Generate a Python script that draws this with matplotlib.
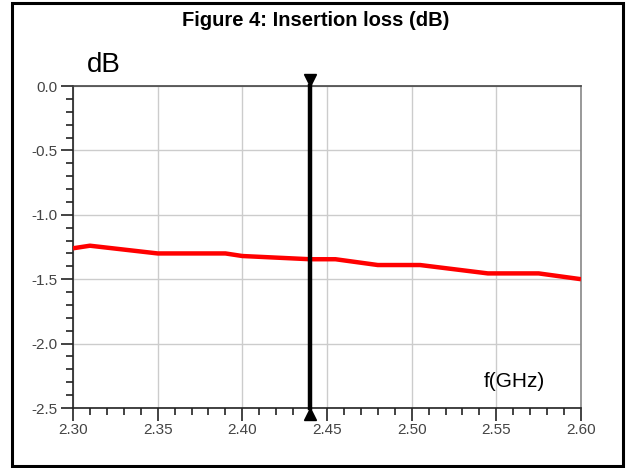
import matplotlib
matplotlib.use("Agg")
import matplotlib.pyplot as plt
from matplotlib.patches import Rectangle
from matplotlib.ticker import MultipleLocator
from matplotlib.transforms import offset_copy

plt.rcParams["font.family"] = ["Liberation Sans", "DejaVu Sans"]

# insertion loss trace
freq_ghz = [2.30, 2.31, 2.35, 2.39, 2.40, 2.44, 2.455, 2.48, 2.505, 2.545, 2.575, 2.60]
loss_db = [-1.26, -1.24, -1.30, -1.30, -1.32, -1.345, -1.345, -1.39, -1.39, -1.455, -1.455, -1.50]

# marker position
marker_f = 2.44

x_ticks = [2.30, 2.35, 2.40, 2.45, 2.50, 2.55, 2.60]
x_labels = ["2.30", "2.35", "2.40", "2.45", "2.50", "2.55", "2.60"]
y_ticks = [0.0, -0.5, -1.0, -1.5, -2.0, -2.5]
y_labels = ["0.0", "-0.5", "-1.0", "-1.5", "-2.0", "-2.5"]

fig = plt.figure(figsize=(6.32, 4.68), dpi=100)
ax = fig.add_axes([73 / 632, 1 - 408 / 468, 508 / 632, 322 / 468])

# outer frame and title
fig.patches.append(Rectangle((12 / 632, 2 / 468), 611 / 632, 463 / 468,
                             transform=fig.transFigure, fill=False,
                             edgecolor="black", linewidth=2.2))
fig.text(0.5, 1 - 21 / 468, "Figure 4: Insertion loss (dB)", ha="center", va="center",
         fontsize=14.5, fontweight="bold")

ax.plot(freq_ghz, loss_db, color="#ff0000", linewidth=3.2, solid_capstyle="butt", zorder=3)

ax.plot([marker_f, marker_f], [y_ticks[0], y_ticks[-1]], color="black", linewidth=3.2,
        clip_on=False, zorder=4)
ax.plot([marker_f], [y_ticks[0]], marker="v", markersize=9, color="black", clip_on=False,
        transform=offset_copy(ax.transData, fig, y=4, units="points"), zorder=5)
ax.plot([marker_f], [y_ticks[-1]], marker="^", markersize=9, color="black", clip_on=False,
        transform=offset_copy(ax.transData, fig, y=-4, units="points"), zorder=5)

ax.set_xlim(2.30, 2.60)
ax.set_ylim(-2.5, 0.0)
ax.set_xticks(x_ticks)
ax.set_xticklabels(x_labels)
ax.set_yticks(y_ticks)
ax.set_yticklabels(y_labels)
ax.xaxis.set_minor_locator(MultipleLocator(0.01))
ax.yaxis.set_minor_locator(MultipleLocator(0.1))
ax.tick_params(which="major", length=9, width=1.2, color="#222222",
               labelsize=11, labelcolor="#444444", pad=2)
ax.tick_params(which="minor", length=5, width=1.2, color="#222222")
ax.grid(True, which="major", color="#cccccc", linewidth=1)

ax.spines["left"].set_color("#222222")
ax.spines["bottom"].set_color("#222222")
ax.spines["top"].set_color("#444444")
ax.spines["right"].set_color("#888888")
for s in ax.spines.values():
    s.set_linewidth(1.2)

fig.text(87 / 632, 1 - 65 / 468, "dB", ha="left", va="center", fontsize=20)
ax.text(0.868, 0.082, "f(GHz)", transform=ax.transAxes, ha="center", va="center",
        fontsize=15)

fig.savefig("out.png", dpi=100)
